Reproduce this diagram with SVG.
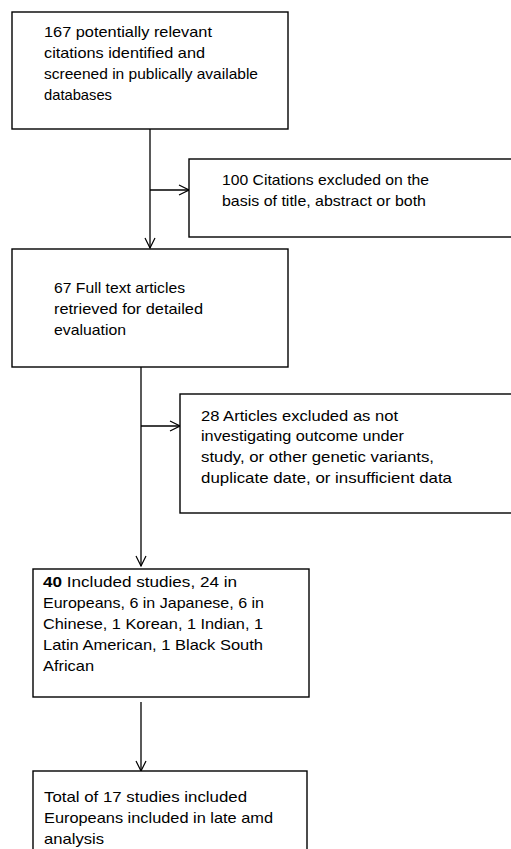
<svg xmlns="http://www.w3.org/2000/svg" width="511" height="849" viewBox="0 0 511 849">
<style>
.box{fill:#fff;stroke:#000;stroke-width:1.4}
.t{font-family:"Liberation Sans",Arial,sans-serif;font-size:15px;fill:#000}
.c{fill:none;stroke:#000;stroke-width:1.3}
</style>
<defs>
<marker id="ah" viewBox="0 0 12 12" refX="11" refY="6" markerWidth="12" markerHeight="12" markerUnits="userSpaceOnUse" orient="auto">
<path d="M1,1 L11,6 L1,11" fill="none" stroke="#000" stroke-width="1.2"/>
</marker>
</defs>
<rect width="511" height="849" fill="#fff"/>
<g id="connectors">
<line class="c" x1="150" y1="129" x2="150" y2="248" marker-end="url(#ah)"/>
<line class="c" x1="150" y1="190" x2="189" y2="190" marker-end="url(#ah)"/>
<line class="c" x1="141" y1="367" x2="141" y2="566" marker-end="url(#ah)"/>
<line class="c" x1="141" y1="426" x2="180" y2="426" marker-end="url(#ah)"/>
<line class="c" x1="141" y1="702" x2="141" y2="771" marker-end="url(#ah)"/>
</g>
<g id="n1">
<rect class="box" x="12" y="12" width="276" height="117"/>
<text class="t" x="44" y="37" textLength="168" lengthAdjust="spacingAndGlyphs">167 potentially relevant</text>
<text class="t" x="44" y="58" textLength="161" lengthAdjust="spacingAndGlyphs">citations identified and</text>
<text class="t" x="44" y="79" textLength="214" lengthAdjust="spacingAndGlyphs">screened in publically available</text>
<text class="t" x="44" y="100" textLength="68" lengthAdjust="spacingAndGlyphs">databases</text>
</g>
<g id="n2">
<rect class="box" x="189" y="159" width="330" height="78"/>
<text class="t" x="222" y="185" textLength="207" lengthAdjust="spacingAndGlyphs">100 Citations excluded on the</text>
<text class="t" x="222" y="206" textLength="204" lengthAdjust="spacingAndGlyphs">basis of title, abstract or both</text>
</g>
<g id="n3">
<rect class="box" x="12" y="249" width="276" height="118"/>
<text class="t" x="54" y="293" textLength="131" lengthAdjust="spacingAndGlyphs">67 Full text articles</text>
<text class="t" x="54" y="314" textLength="149" lengthAdjust="spacingAndGlyphs">retrieved for detailed</text>
<text class="t" x="54" y="335" textLength="72" lengthAdjust="spacingAndGlyphs">evaluation</text>
</g>
<g id="n4">
<rect class="box" x="180" y="394" width="340" height="119"/>
<text class="t" x="201" y="421" textLength="197" lengthAdjust="spacingAndGlyphs">28 Articles excluded as not</text>
<text class="t" x="201" y="441" textLength="203" lengthAdjust="spacingAndGlyphs">investigating outcome under</text>
<text class="t" x="201" y="462" textLength="233" lengthAdjust="spacingAndGlyphs">study, or other genetic variants,</text>
<text class="t" x="201" y="483" textLength="251" lengthAdjust="spacingAndGlyphs">duplicate date, or insufficient data</text>
</g>
<g id="n5">
<rect class="box" x="33" y="569" width="276" height="128"/>
<text class="t" x="43" y="587" textLength="194" lengthAdjust="spacingAndGlyphs"><tspan font-weight="bold">40</tspan>  Included studies, 24 in</text>
<text class="t" x="43" y="608" textLength="221" lengthAdjust="spacingAndGlyphs">Europeans, 6 in Japanese, 6 in</text>
<text class="t" x="43" y="629" textLength="220" lengthAdjust="spacingAndGlyphs">Chinese, 1 Korean, 1 Indian, 1</text>
<text class="t" x="43" y="650" textLength="220" lengthAdjust="spacingAndGlyphs">Latin American, 1 Black South</text>
<text class="t" x="43" y="671" textLength="51" lengthAdjust="spacingAndGlyphs">African</text>
</g>
<g id="n6">
<rect class="box" x="33" y="771" width="274" height="100"/>
<text class="t" x="44" y="802" textLength="203" lengthAdjust="spacingAndGlyphs">Total of 17 studies included</text>
<text class="t" x="44" y="823" textLength="229" lengthAdjust="spacingAndGlyphs">Europeans included in late amd</text>
<text class="t" x="44" y="844" textLength="60" lengthAdjust="spacingAndGlyphs">analysis</text>
</g>
</svg>
